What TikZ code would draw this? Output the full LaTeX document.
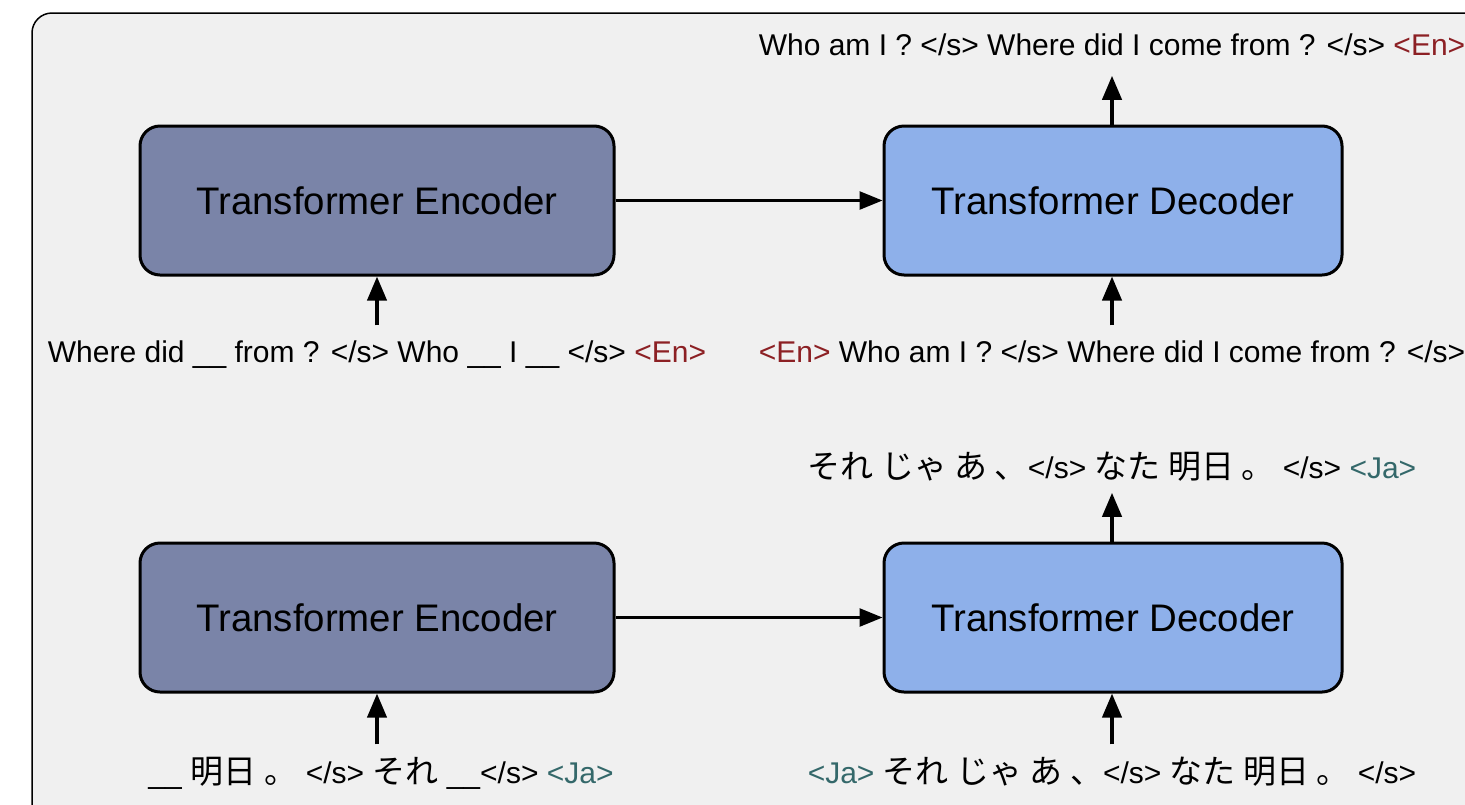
\documentclass[tikz,border=0pt]{standalone}
\usepackage{fontspec}
\setmainfont{Liberation Sans}
\newfontfamily\jafont[Scale=1.1]{Noto Sans CJK JP}
\usetikzlibrary{arrows.meta}

\definecolor{bggray}{RGB}{240,240,240}
\definecolor{encfill}{RGB}{122,132,168}
\definecolor{decfill}{RGB}{142,176,234}
\definecolor{enred}{RGB}{140,32,36}
\definecolor{jateal}{RGB}{52,104,106}

\newcommand{\ja}[1]{{\jafont #1}}
\newcommand{\entag}{{\color{enred}<En>}}
\newcommand{\jatag}{{\color{jateal}<Ja>}}

\tikzset{every picture/.style={line width=0.75pt}}
\tikzset{
	block/.style={draw, line width=1.5pt, rounded corners=10pt, minimum height=74.5pt, inner sep=0pt, font=\fontsize{19.2}{23}\selectfont},
	encblock/.style={block, fill=encfill, minimum width=237pt},
	decblock/.style={block, fill=decfill, minimum width=229pt},
	tok/.style={anchor=base, inner sep=0pt, text height=10.5pt, text depth=3pt, font=\fontsize{15}{18}\selectfont},
	uparr/.style={line width=2pt, -{Triangle[length=12pt,width=9.5pt]}},
	sidearr/.style={line width=1.3pt, -{Triangle[length=11.5pt,width=9pt]}}
}

\begin{document}
\begin{tikzpicture}[x=0.5pt,y=0.5pt,yscale=-1,xscale=1]
	\useasboundingbox (0,0) rectangle (1465,804);
	
	%Shape: Background
	\draw [fill=bggray, rounded corners=10pt] (32,13) rectangle (1520,840);
	
	%English row
	\node [encblock] (enc1) at (377,200.5) {Transformer Encoder};
	\node [decblock] (dec1) at (1113,200.5) {Transformer Decoder};
	% Text Node
	\node [tok] (encin1) at (377,362) {Where did \_\_ from ? </s> Who \_\_ I \_\_ </s> \entag};
	% Text Node
	\node [tok] (decin1) at (1112,362) {\entag\ Who am I ? </s> Where did I come from ? </s>};
	% Text Node
	\node [tok] (decout1) at (1112,55) {Who am I ? </s> Where did I come from ? </s> \entag};
	
	%Japanese row
	\node [encblock] (enc2) at (377,617.5) {Transformer Encoder};
	\node [decblock] (dec2) at (1113,617.5) {Transformer Decoder};
	% Text Node
	\node [tok] (encin2) at (381,783) {\_\_ \ja{明日} \ja{。} </s> \ja{それ} \_\_</s> \jatag};
	% Text Node
	\node [tok] (decin2) at (1112,783) {\jatag\ \ja{それ じゃ あ 、}</s> \ja{なた 明日 。} </s>};
	% Text Node
	\node [tok] (decout2) at (1112,478) {\ja{それ じゃ あ 、}</s> \ja{なた 明日 。} </s> \jatag};
	
	%Connectors
	\draw [sidearr] (enc1.east) -- (dec1.west);
	\draw [uparr, shorten <=7.5pt] (encin1.north) -- (enc1.south);
	\draw [uparr, shorten <=7.5pt] (decin1.north) -- (decin1.north |- dec1.south);
	\draw [uparr, shorten >=7pt] (dec1.north -| decout1.south) -- (decout1.south);
	
	\draw [sidearr] (enc2.east) -- (dec2.west);
	\draw [uparr, shorten <=8.5pt] (encin2.north -| enc2.south) -- (enc2.south);
	\draw [uparr, shorten <=8.5pt] (decin2.north) -- (decin2.north |- dec2.south);
	\draw [uparr, shorten >=4pt] (dec2.north -| decout2.south) -- (decout2.south);
	
\end{tikzpicture}
\end{document}
